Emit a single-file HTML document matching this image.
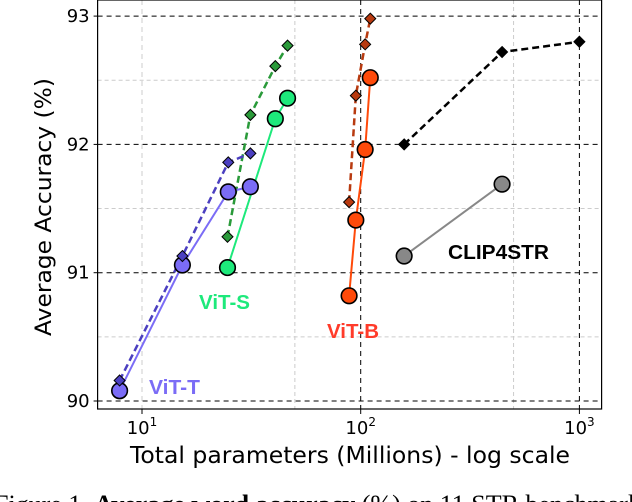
<!DOCTYPE html>
<html><head><meta charset="utf-8"><style>
html,body{margin:0;padding:0;background:#fff;width:632px;height:502px;overflow:hidden}
svg{display:block}
</style></head><body>
<svg id="chart" width="632" height="502" viewBox="0 0 632 502" xmlns="http://www.w3.org/2000/svg" font-family="DejaVu Sans, Liberation Sans, sans-serif">
<g id="grid"></g>
<g id="series"></g>
<g id="axes"></g>
<text x="199" y="309" textLength="51" lengthAdjust="spacingAndGlyphs" font-family="Liberation Sans, sans-serif" font-weight="bold" font-size="20" fill="#1de97b">ViT-S</text>
<text x="327" y="338" textLength="52" lengthAdjust="spacingAndGlyphs" font-family="Liberation Sans, sans-serif" font-weight="bold" font-size="20" fill="#ff3b2a">ViT-B</text>
<text x="149" y="394" textLength="51" lengthAdjust="spacingAndGlyphs" font-family="Liberation Sans, sans-serif" font-weight="bold" font-size="20" fill="#7b6cf6">ViT-T</text>
<text x="448" y="259" textLength="101" lengthAdjust="spacingAndGlyphs" font-family="Liberation Sans, sans-serif" font-weight="bold" font-size="20" fill="#000">CLIP4STR</text>
<text transform="translate(51,207) rotate(-90)" text-anchor="middle" textLength="258" lengthAdjust="spacingAndGlyphs" font-size="22" fill="#000">Average Accuracy (%)</text>
<text x="130" y="463" textLength="440" lengthAdjust="spacingAndGlyphs" font-size="23" fill="#000">Total parameters (Millions) - log scale</text>
<text x="-6" y="513" font-family="Liberation Serif, serif" font-size="26" fill="#000">Figure 1.  <tspan font-weight="bold">Average word accuracy</tspan> (%) on 11 STR benchmark</text>
</svg>
<script>
const yTicks=[90,91,92,93];
const yMinor=[90.5,91.5,92.5];
const xTicks=[10,100,1000];
const xTickLabels=["1","2","3"];
const xMinor=[50,500];
const tX=[7.9,15.3,24.8,31.3];
const tCirc=[90.08,91.06,91.63,91.67];
const tDiam=[90.16,91.13,91.86,91.93];
const sCX=[24.6,40.7,46.3];
const sCirc=[91.04,92.2,92.36];
const sX=[24.6,31.3,40.7,46.3];
const sDiam=[91.28,92.23,92.61,92.77];
const bX=[88.5,95,104.8,110.6];
const bCirc=[90.82,91.41,91.96,92.52];
const bDiam=[91.55,92.38,92.78,92.98];
const cX=[158,443,1000];
const cCirc=[91.13,91.69];
const cDiam=[92.0,92.72,92.8];

const L=97.6,R=601.6,T=0,B=409;
const X=v=>142+(Math.log10(v)-1)*218.7;
const Y=v=>401-(v-90)*128.3;
const NS="http://www.w3.org/2000/svg";
function mk(tag,attrs,parent){const e=document.createElementNS(NS,tag);for(const k in attrs)e.setAttribute(k,attrs[k]);parent.appendChild(e);return e;}
const grid=document.getElementById('grid'),ser=document.getElementById('series'),ax=document.getElementById('axes');

yMinor.forEach(v=>{const e=mk('line',{x1:L,x2:R,y1:Y(v),y2:Y(v),stroke:'#ccc','stroke-width':1,'stroke-dasharray':'4,3'},grid);

});
xMinor.forEach(v=>{const e=mk('line',{x1:X(v),x2:X(v),y1:T,y2:B,stroke:'#ccc','stroke-width':1,'stroke-dasharray':'4,3'},grid);

});
yTicks.forEach(v=>{const e=mk('line',{x1:L,x2:R,y1:Y(v),y2:Y(v),stroke:'#000','stroke-width':1,'stroke-dasharray':'5,4'},grid);

});
xTicks.forEach((v,i)=>{const e=mk('line',{x1:X(v),x2:X(v),y1:T,y2:B,stroke:i==0?'#ccc':'#000','stroke-width':1,'stroke-dasharray':'5,4'},grid);

});

function line(xs,ys,color,dash,w,name){
 const pts=ys.map((y,i)=>X(xs[i])+','+Y(y)).join(' ');
 const e=mk('polyline',{points:pts,fill:'none',stroke:color,'stroke-width':w,'stroke-dasharray':dash||'none'},ser);
 
 
}
function circles(xs,ys,color,name){ys.forEach((y,i)=>{const e=mk('circle',{cx:X(xs[i]),cy:Y(y),r:7.8,fill:color,stroke:'#000','stroke-width':1.6},ser);

});}
function diamonds(xs,ys,color,name){ys.forEach((y,i)=>{const cx=X(xs[i]),cy=Y(y),s=5.5;const e=mk('polygon',{points:`${cx},${cy-s} ${cx+s},${cy} ${cx},${cy+s} ${cx-s},${cy}`,fill:color,stroke:'#000','stroke-width':1},ser);

});}

line(sCX,sCirc,'#1de97b',null,2,'vit-s-line');
line(sX,sDiam,'#2a9a3a','7,4',2.5,'vit-s-dashed-line');
circles(sCX,sCirc,'#1de97b','vit-s-point');
diamonds(sX,sDiam,'#2a9a3a','vit-s-diamond');
line(tX,tCirc,'#7b6cf6',null,2,'vit-t-line');
line(tX,tDiam,'#4b3fc0','7,4',2.5,'vit-t-dashed-line');
circles(tX,tCirc,'#7b6cf6','vit-t-point');
diamonds(tX,tDiam,'#4b3fc0','vit-t-diamond');
line(bX,bCirc,'#ff4a0a',null,2,'vit-b-line');
line(bX,bDiam,'#b83a10','7,4',2.5,'vit-b-dashed-line');
circles(bX,bCirc,'#ff4a0a','vit-b-point');
diamonds(bX,bDiam,'#b83a10','vit-b-diamond');
line(cX.slice(0,2),cCirc,'#888',null,2,'clip4str-line');
line(cX,cDiam,'#000','7,4',2.5,'clip4str-dashed-line');
circles(cX,cCirc,'#888','clip4str-point');
diamonds(cX,cDiam,'#000','clip4str-diamond');

const fr=mk('rect',{x:L,y:T,width:R-L,height:B-T,fill:'none',stroke:'#000','stroke-width':1.2},ax);


yTicks.forEach(v=>{mk('line',{x1:L-4,x2:L,y1:Y(v),y2:Y(v),stroke:'#000'},ax);
const t=mk('text',{x:L-8,y:Y(v)+6,'text-anchor':'end','font-size':18,fill:'#000'},ax);t.textContent=v;

});
xTicks.forEach((v,i)=>{mk('line',{x1:X(v),x2:X(v),y1:B,y2:B+5,stroke:'#000'},ax);
const t=mk('text',{x:X(v),y:434,'text-anchor':'middle','font-size':18,fill:'#000'},ax);t.textContent='10';
const s=mk('tspan',{dy:-8,'font-size':12},t);s.textContent=xTickLabels[i];

});
</script>
</body></html>
